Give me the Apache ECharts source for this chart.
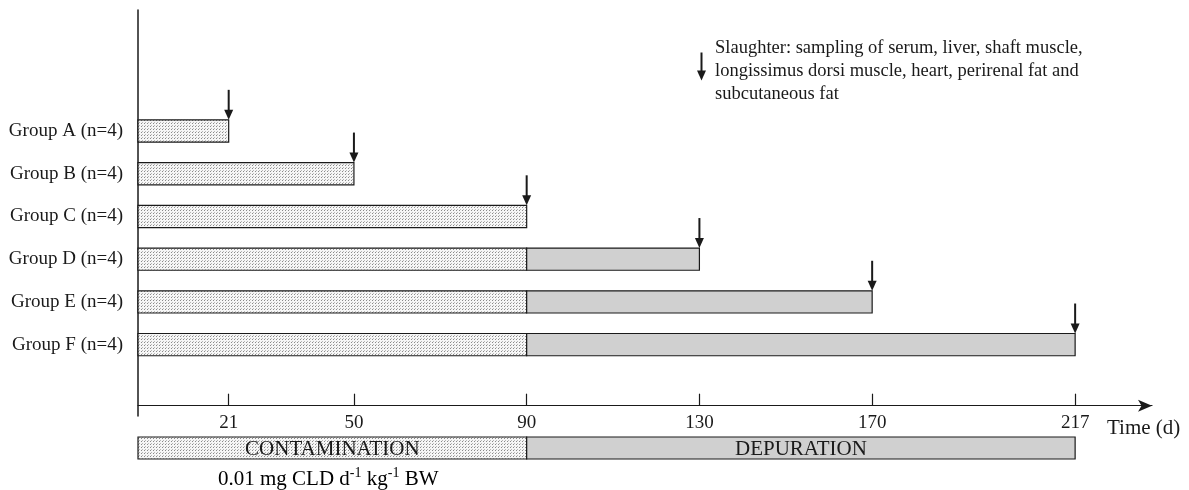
<!DOCTYPE html>
<html>
<head>
<meta charset="utf-8">
<title>Experimental design</title>
<script src="https://cdn.jsdelivr.net/npm/echarts@6/dist/echarts.min.js"></script>
<style>
  html, body { margin: 0; padding: 0; background: #fff; }
  #chart { width: 1189px; height: 490px; }
</style>
</head>
<body>
<div id="chart"></div>
<script>
// groups of animals, top to bottom
const groups = ['Group A (n=4)', 'Group B (n=4)', 'Group C (n=4)', 'Group D (n=4)', 'Group E (n=4)', 'Group F (n=4)']
// day the contamination feeding stopped, per group
const contaminationEnd = [21, 50, 90, 90, 90, 90]
// day of slaughter, per group
const slaughterDay = [21, 50, 90, 130, 170, 217]
// tick labels on the time axis
const tickDays = [21, 50, 90, 130, 170, 217]
// phases shown under the axis
const phaseNames = ['CONTAMINATION', 'DEPURATION']
const phaseStart = [0, 90]
const phaseEnd = [90, 217]

const FONT = '"Liberation Serif", "DejaVu Serif", serif'
const INK = '#1a1a1a'
const GREY = '#d0d0d0'

// dotted fill of the contamination phase
function dotPattern() {
    const c = document.createElement('canvas')
    c.width = 3
    c.height = 3
    const g = c.getContext('2d')
    g.fillStyle = '#f6f6f6'
    g.fillRect(0, 0, 3, 3)
    g.fillStyle = '#8a8a8a'
    g.fillRect(0, 0, 1, 1)
    g.fillStyle = '#b8b8b8'
    g.fillRect(1, 2, 1, 1)
    return { image: c, repeat: 'repeat' }
}
const dots = dotPattern()

const contaminationData = groups.map((g, i) => [0, contaminationEnd[i], i])
const depurationData = groups
    .map((g, i) => [contaminationEnd[i], slaughterDay[i], i])
    .filter(d => d[1] > d[0])
const slaughterData = groups.map((g, i) => [slaughterDay[i], i])
const phaseData = phaseNames.map((n, i) => [phaseStart[i], phaseEnd[i], 0, n])

function segment(fill) {
    return function (params, api) {
        const s = api.coord([api.value(0), api.value(2)])
        const e = api.coord([api.value(1), api.value(2)])
        const h = api.size([0, 1])[1] * 0.52
        return {
            type: 'rect',
            shape: { x: s[0], y: s[1] - h / 2, width: e[0] - s[0], height: h },
            style: { fill: fill, stroke: INK, lineWidth: 1.2 }
        }
    }
}

function arrow(params, api) {
    const p = api.coord([api.value(0), api.value(1)])
    const h = api.size([0, 1])[1] * 0.52
    const tip = p[1] - h / 2
    return {
        type: 'group',
        children: [{
            type: 'line',
            shape: { x1: p[0], y1: tip - 30, x2: p[0], y2: tip - 8 },
            style: { stroke: INK, lineWidth: 2 }
        }, {
            type: 'polygon',
            shape: { points: [[p[0] - 4.5, tip - 10], [p[0] + 4.5, tip - 10], [p[0], tip]] },
            style: { fill: INK }
        }]
    }
}

function phase(params, api) {
    const s = api.coord([api.value(0), 0])
    const e = api.coord([api.value(1), 0])
    const h = api.size([0, 1])[1]
    const name = phaseNames[params.dataIndex]
    return {
        type: 'group',
        children: [{
            type: 'rect',
            shape: { x: s[0], y: s[1] - h / 2, width: e[0] - s[0], height: h },
            style: { fill: params.dataIndex === 0 ? dots : GREY, stroke: INK, lineWidth: 1.2 }
        }, {
            type: 'text',
            x: (s[0] + e[0]) / 2,
            y: s[1] + 1,
            style: {
                text: name, fill: INK, font: '21px ' + FONT,
                align: 'center', verticalAlign: 'middle'
            }
        }]
    }
}

const chart = echarts.init(document.getElementById('chart'), null, { renderer: 'canvas' })
chart.setOption({
    animation: false,
    backgroundColor: '#fff',
    textStyle: { fontFamily: FONT, color: INK },
    grid: [
        { left: 138, top: 10, width: 1014, height: 406 },
        { left: 138, top: 437, width: 1014, height: 22 }
    ],
    xAxis: [{
        gridIndex: 0,
        type: 'value',
        min: 0,
        max: 234.8,
        offset: -10.3,
        splitLine: { show: false },
        axisLine: {
            show: true,
            onZero: false,
            symbol: ['none', 'arrow'],
            symbolSize: [9, 14],
            lineStyle: { color: INK, width: 1.2 }
        },
        axisTick: {
            show: true,
            inside: true,
            length: 12,
            customValues: tickDays,
            lineStyle: { color: INK, width: 1.2 }
        },
        axisLabel: {
            customValues: tickDays,
            margin: 8,
            fontSize: 19,
            fontFamily: FONT,
            color: INK
        },
        name: 'Time (d)',
        nameLocation: 'end',
        nameGap: -45,
        nameTextStyle: {
            fontSize: 21, fontFamily: FONT, color: INK,
            align: 'left', verticalAlign: 'top', padding: [12, 0, 0, 0]
        }
    }, {
        gridIndex: 1,
        type: 'value',
        min: 0,
        max: 234.8,
        show: false
    }],
    yAxis: [{
        gridIndex: 0,
        type: 'value',
        inverse: true,
        min: -2.83,
        max: 6.67,
        splitLine: { show: false },
        axisLine: { show: true, onZero: false, lineStyle: { color: INK, width: 1.5 } },
        axisTick: { show: false },
        axisLabel: {
            customValues: groups.map((g, i) => i),
            formatter: v => groups[v] || '',
            margin: 15,
            fontSize: 19,
            fontFamily: FONT,
            color: INK
        }
    }, {
        gridIndex: 1,
        type: 'value',
        min: -0.5,
        max: 0.5,
        show: false
    }],
    series: [{
        name: 'Contamination',
        type: 'custom',
        xAxisIndex: 0,
        yAxisIndex: 0,
        renderItem: segment(dots),
        encode: { x: [0, 1], y: 2 },
        data: contaminationData
    }, {
        name: 'Depuration',
        type: 'custom',
        xAxisIndex: 0,
        yAxisIndex: 0,
        renderItem: segment(GREY),
        encode: { x: [0, 1], y: 2 },
        data: depurationData
    }, {
        name: 'Slaughter',
        type: 'custom',
        xAxisIndex: 0,
        yAxisIndex: 0,
        renderItem: arrow,
        encode: { x: 0, y: 1 },
        data: slaughterData
    }, {
        name: 'Phase',
        type: 'custom',
        xAxisIndex: 1,
        yAxisIndex: 1,
        renderItem: phase,
        encode: { x: [0, 1], y: 2 },
        data: phaseData
    }],
    graphic: [{
        // legend for the slaughter arrow
        type: 'group',
        left: 697,
        top: 50,
        children: [{
            type: 'line',
            shape: { x1: 6, y1: 0, x2: 6, y2: 20 },
            style: { stroke: INK, lineWidth: 2 }
        }, {
            type: 'polygon',
            shape: { points: [[1.5, 18], [10.5, 18], [6, 28]] },
            style: { fill: INK }
        }]
    }, {
        type: 'text',
        left: 715,
        top: 37,
        style: {
            text: 'Slaughter: sampling of serum, liver, shaft muscle,\nlongissimus dorsi muscle, heart, perirenal fat and\nsubcutaneous fat',
            font: '18.5px ' + FONT,
            lineHeight: 23,
            fill: INK
        }
    }, {
        type: 'text',
        left: 218,
        top: 466,
        style: {
            text: '{a|0.01 mg CLD d}{s|-1}{a| kg}{s|-1}{a| BW}',
            rich: {
                a: { fontSize: 21, fontFamily: FONT, color: INK, verticalAlign: 'bottom', lineHeight: 24 },
                s: { fontSize: 14, fontFamily: FONT, color: INK, verticalAlign: 'top', lineHeight: 24 }
            }
        }
    }]
})
</script>
</body>
</html>
